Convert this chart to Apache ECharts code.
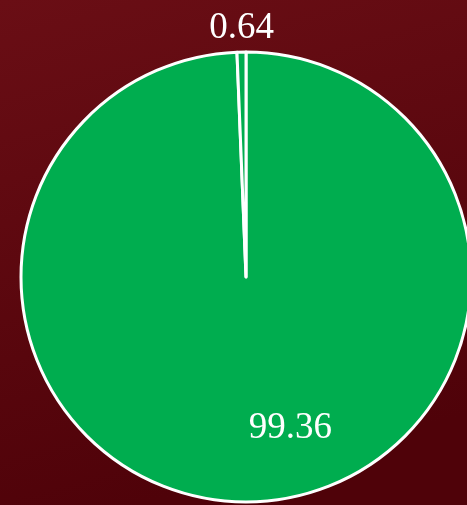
<!DOCTYPE html>
<html>
<head>
<meta charset="utf-8">
<script src="https://cdn.jsdelivr.net/npm/echarts@6/dist/echarts.min.js"></script>
<style>html,body{margin:0;padding:0;}#c{width:467px;height:505px;}</style>
</head>
<body>
<div id="c"></div>
<script>
const categories = ['A', 'B'];
const values = [99.36, 0.64];
const labelOffsets = [[42, 36], [-2, -133]];

const chart = echarts.init(document.getElementById('c'));
chart.setOption({
  backgroundColor: {
    type: 'linear', x: 0, y: 0, x2: 0.3, y2: 1,
    colorStops: [{offset: 0, color: '#6a0e15'}, {offset: 1, color: '#4f0209'}]
  },
  animation: false,
  series: [{
    type: 'pie',
    center: [246, 277],
    radius: [0, 225],
    startAngle: 90,
    clockwise: true,
    itemStyle: {color: '#00ad4f', borderColor: '#ffffff', borderWidth: 3},
    label: {
      show: true, position: 'inside', color: '#ffffff',
      fontFamily: 'Liberation Serif', fontSize: 37,
      formatter: p => p.value.toFixed(2)
    },
    labelLine: {show: false},
    emphasis: {disabled: true},
    data: categories.map((c, i) => ({
      name: c, value: values[i],
      label: {offset: labelOffsets[i]}
    }))
  }]
});
</script>
</body>
</html>
